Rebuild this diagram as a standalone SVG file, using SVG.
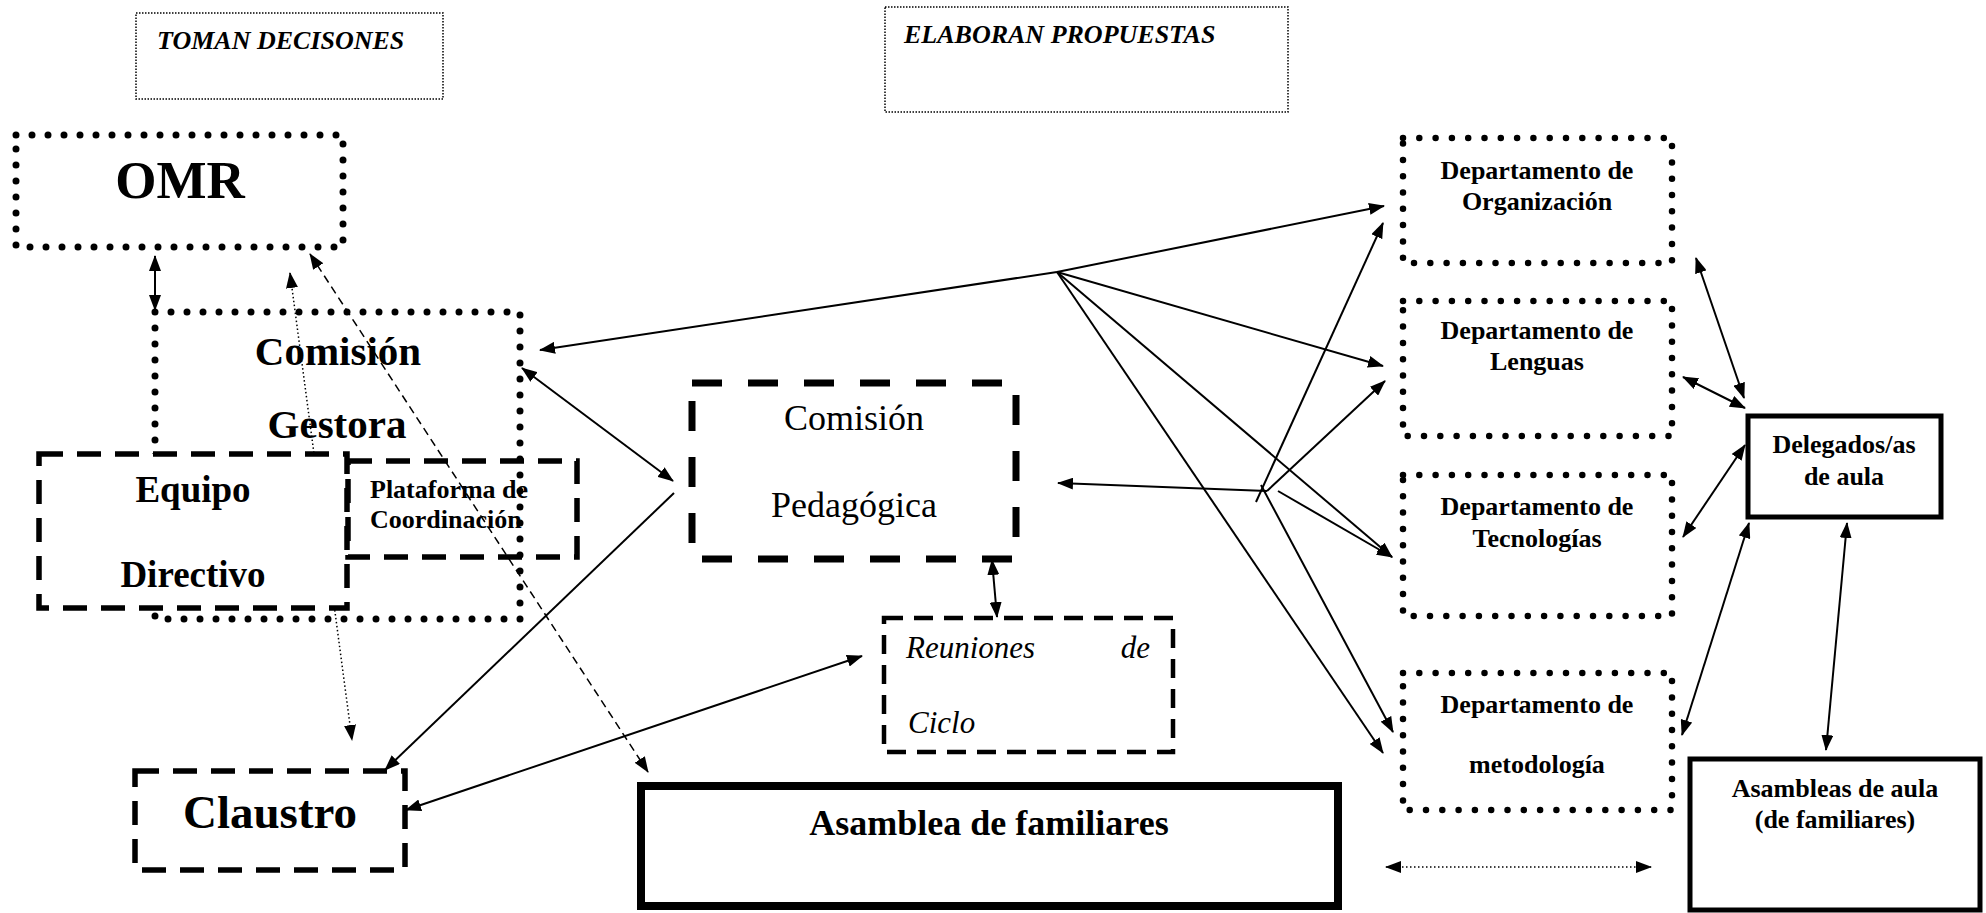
<svg xmlns="http://www.w3.org/2000/svg" width="1986" height="913" viewBox="0 0 1986 913">
<style>
  text { font-family: "Liberation Serif", "Times New Roman", serif; fill: #000; }
  .b { font-weight: bold; }
  .bi { font-weight: bold; font-style: italic; }
  .i { font-style: italic; }
  .mid { text-anchor: middle; }
  .dots { fill: none; stroke: #000; stroke-width: 7; stroke-dasharray: 0 16; stroke-linecap: round; }
  .ddots { fill: none; stroke: #000; stroke-width: 6.5; stroke-dasharray: 0 16.3; stroke-linecap: round; }
  .thin { fill: none; stroke: #000; stroke-width: 1.5; stroke-dasharray: 1.5 1.5; }
  .dash { fill: none; stroke: #000; stroke-width: 5.5; stroke-dasharray: 24 14; }
  .dashw { fill: #fff; stroke: #000; stroke-width: 5.5; stroke-dasharray: 24 14; }
  .dashbig { fill: none; stroke: #000; stroke-width: 7; stroke-dasharray: 30 26; }
  .dashsm { fill: none; stroke: #000; stroke-width: 4.5; stroke-dasharray: 19 11; }
  .solid { fill: none; stroke: #000; }
  .c { fill: none; stroke: #000; stroke-width: 2; }
  .cdot { fill: none; stroke: #000; stroke-width: 1.5; stroke-dasharray: 1.5 2.5; }
  .cdash { fill: none; stroke: #000; stroke-width: 1.5; stroke-dasharray: 8 5; }
</style>
<defs>
  <marker id="arr" markerUnits="userSpaceOnUse" markerWidth="16" markerHeight="12" refX="15" refY="6" orient="auto-start-reverse">
    <path d="M0,0 L16,6 L0,12 z" fill="#000"/>
  </marker>
</defs>

<g id="toman-decisiones">
  <rect class="thin" x="136" y="13" width="307" height="86"/>
  <text class="bi" x="157" y="49" font-size="26">TOMAN DECISONES</text>
</g>
<g id="elaboran-propuestas">
  <rect class="thin" x="885" y="7" width="403" height="105"/>
  <text class="bi" x="904" y="43" font-size="26">ELABORAN PROPUESTAS</text>
</g>

<g id="omr">
  <rect class="dots" x="16" y="135" width="327" height="112"/>
  <text class="b mid" x="180" y="198" font-size="53">OMR</text>
</g>

<g id="comision-gestora">
  <rect class="dots" x="155" y="312" width="365" height="307"/>
  <text class="b mid" x="338" y="365" font-size="41">Comisión</text>
  <text class="b mid" x="337" y="438" font-size="41">Gestora</text>
</g>

<g id="connectors">
  <line class="cdot" x1="290" y1="273" x2="352" y2="740" marker-start="url(#arr)" marker-end="url(#arr)"/>
  <line class="cdash" x1="310" y1="254" x2="648" y2="772" marker-start="url(#arr)" marker-end="url(#arr)"/>
  <line class="c" x1="155" y1="256" x2="155" y2="310" marker-start="url(#arr)" marker-end="url(#arr)"/>
  <line class="c" x1="1057" y1="272" x2="540" y2="350" marker-end="url(#arr)"/>
  <line class="c" x1="1057" y1="272" x2="1384" y2="206" marker-end="url(#arr)"/>
  <line class="c" x1="1057" y1="272" x2="1383" y2="366" marker-end="url(#arr)"/>
  <line class="c" x1="1057" y1="272" x2="1392" y2="557" marker-end="url(#arr)"/>
  <line class="c" x1="1057" y1="272" x2="1383" y2="753" marker-end="url(#arr)"/>
  <line class="c" x1="1267" y1="491" x2="1058" y2="483" marker-end="url(#arr)"/>
  <line class="c" x1="1256" y1="502" x2="1383" y2="223" marker-end="url(#arr)"/>
  <line class="c" x1="1267" y1="491" x2="1385" y2="381" marker-end="url(#arr)"/>
  <line class="c" x1="1261" y1="485" x2="1393" y2="732" marker-end="url(#arr)"/>
  <line class="c" x1="1278" y1="491" x2="1392" y2="557" marker-end="url(#arr)"/>
  <line class="c" x1="522" y1="368" x2="673" y2="481" marker-start="url(#arr)" marker-end="url(#arr)"/>
  <line class="c" x1="674" y1="493" x2="385" y2="770" marker-end="url(#arr)"/>
  <line class="c" x1="406" y1="810" x2="862" y2="656" marker-start="url(#arr)" marker-end="url(#arr)"/>
  <line class="c" x1="992" y1="560" x2="997" y2="617" marker-start="url(#arr)" marker-end="url(#arr)"/>
  <line class="c" x1="1696" y1="258" x2="1744" y2="398" marker-start="url(#arr)" marker-end="url(#arr)"/>
  <line class="c" x1="1683" y1="377" x2="1745" y2="408" marker-start="url(#arr)" marker-end="url(#arr)"/>
  <line class="c" x1="1683" y1="537" x2="1745" y2="445" marker-start="url(#arr)" marker-end="url(#arr)"/>
  <line class="c" x1="1682" y1="735" x2="1749" y2="523" marker-start="url(#arr)" marker-end="url(#arr)"/>
  <line class="c" x1="1847" y1="523" x2="1826" y2="750" marker-start="url(#arr)" marker-end="url(#arr)"/>
  <line class="cdot" x1="1386" y1="867" x2="1651" y2="867" marker-start="url(#arr)" marker-end="url(#arr)"/>
</g>

<g id="equipo-directivo">
  <rect class="dashw" x="39" y="454" width="308" height="154"/>
  <text class="b mid" x="193" y="502" font-size="37">Equipo</text>
  <text class="b mid" x="193" y="587" font-size="37">Directivo</text>
</g>

<g id="plataforma-coordinacion">
  <rect class="dash" x="348" y="461" width="229" height="96"/>
  <text class="b" x="370" y="498" font-size="26">Plataforma de</text>
  <text class="b" x="370" y="528" font-size="26">Coordinación</text>
</g>

<g id="comision-pedagogica">
  <rect class="dashbig" x="692" y="383" width="324" height="176"/>
  <text class="mid" x="854" y="430" font-size="36">Comisión</text>
  <text class="mid" x="854" y="517" font-size="36">Pedagógica</text>
</g>

<g id="reuniones-ciclo">
  <rect class="dashsm" x="884" y="618" width="289" height="134"/>
  <text class="i" x="906" y="658" font-size="31">Reuniones</text>
  <text class="i" x="1150" y="658" font-size="31" text-anchor="end">de</text>
  <text class="i" x="908" y="733" font-size="31">Ciclo</text>
</g>

<g id="claustro">
  <rect class="dash" x="135" y="771" width="270" height="99"/>
  <text class="b mid" x="270" y="828" font-size="47">Claustro</text>
</g>

<g id="asamblea-familiares">
  <rect class="solid" stroke-width="8" x="641" y="786" width="697" height="120"/>
  <text class="b mid" x="989" y="835" font-size="36">Asamblea de familiares</text>
</g>

<g id="dep-organizacion">
  <rect class="ddots" x="1403" y="138" width="269" height="125"/>
  <text class="b mid" x="1537" y="179" font-size="26">Departamento de</text>
  <text class="b mid" x="1537" y="210" font-size="26">Organización</text>
</g>
<g id="dep-lenguas">
  <rect class="ddots" x="1403" y="301" width="269" height="135"/>
  <text class="b mid" x="1537" y="339" font-size="26">Departamento de</text>
  <text class="b mid" x="1537" y="370" font-size="26">Lenguas</text>
</g>
<g id="dep-tecnologias">
  <rect class="ddots" x="1403" y="475" width="269" height="141"/>
  <text class="b mid" x="1537" y="515" font-size="26">Departamento de</text>
  <text class="b mid" x="1537" y="547" font-size="26">Tecnologías</text>
</g>
<g id="dep-metodologia">
  <rect class="ddots" x="1403" y="673" width="269" height="137"/>
  <text class="b mid" x="1537" y="713" font-size="26">Departamento de</text>
  <text class="b mid" x="1537" y="773" font-size="26">metodología</text>
</g>

<g id="delegados">
  <rect class="solid" stroke-width="5" x="1748" y="416" width="193" height="101"/>
  <text class="b mid" x="1844" y="453" font-size="26">Delegados/as</text>
  <text class="b mid" x="1844" y="485" font-size="26">de aula</text>
</g>

<g id="asambleas-aula">
  <rect class="solid" stroke-width="5" x="1690" y="759" width="290" height="151"/>
  <text class="b mid" x="1835" y="797" font-size="26">Asambleas de aula</text>
  <text class="b mid" x="1835" y="828" font-size="26">(de familiares)</text>
</g>
</svg>
